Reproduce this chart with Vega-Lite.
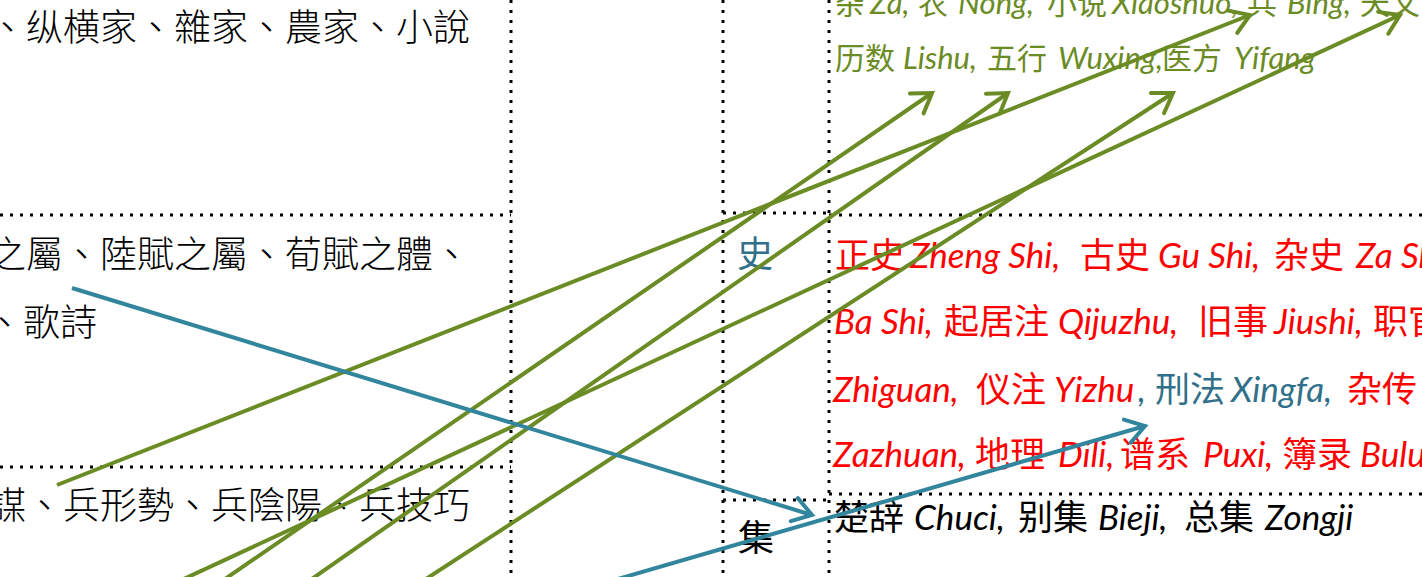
{
  "$schema": "https://vega.github.io/schema/vega-lite/v6.json",
  "width": 1422,
  "height": 577,
  "autosize": "none",
  "padding": 0,
  "background": "white",
  "config": {"view": {"stroke": null}},
  "datasets": {
    "dots": [
      {"x": 511, "y": 0, "x2": 511, "y2": 577},
      {"x": 723, "y": 0, "x2": 723, "y2": 577},
      {"x": 829, "y": 0, "x2": 829, "y2": 577},
      {"x": 0, "y": 215, "x2": 511, "y2": 215},
      {"x": 0, "y": 467, "x2": 511, "y2": 467},
      {"x": 723, "y": 213, "x2": 829, "y2": 213},
      {"x": 829, "y": 215, "x2": 1422, "y2": 215},
      {"x": 723, "y": 500, "x2": 829, "y2": 500},
      {"x": 829, "y": 494, "x2": 1422, "y2": 494}
    ],
    "links": [
      {"x": 160, "y": 590, "x2": 1400, "y2": 15, "tone": "green"},
      {"x": 209, "y": 590, "x2": 932, "y2": 93, "tone": "green"},
      {"x": 296, "y": 590, "x2": 1008, "y2": 93, "tone": "green"},
      {"x": 409, "y": 590, "x2": 1173, "y2": 93, "tone": "green"},
      {"x": 57, "y": 485, "x2": 1250, "y2": 15, "tone": "green"},
      {"x": 72, "y": 288, "x2": 812, "y2": 515, "tone": "blue"},
      {"x": 580, "y": 590, "x2": 1145, "y2": 426, "tone": "blue"}
    ],
    "heads": [
      {"x": 932, "y": 93, "angle": 325.5, "tone": "green"},
      {"x": 1008, "y": 93, "angle": 325.1, "tone": "green"},
      {"x": 1173, "y": 93, "angle": 327, "tone": "green"},
      {"x": 1250, "y": 15, "angle": 338.5, "tone": "green"},
      {"x": 1400, "y": 15, "angle": 335.1, "tone": "green"},
      {"x": 812, "y": 515, "angle": 17, "tone": "blue"},
      {"x": 1145, "y": 426, "angle": 343.7, "tone": "blue"}
    ],
    "leftText": [
      {"x": 470, "y": 41, "text": "、纵横家、雜家、農家、小說"},
      {"x": 470, "y": 268, "text": "之屬、陸賦之屬、荀賦之體、"},
      {"x": 97, "y": 336, "text": "、歌詩"},
      {"x": 470, "y": 519, "text": "謀、兵形勢、兵陰陽、兵技巧"}
    ],
    "midText": [
      {"x": 755, "y": 267, "text": "史", "tone": "teal"},
      {"x": 756, "y": 551, "text": "集", "tone": "black"}
    ],
    "rightText": [
      {"x": 835, "y": 14, "text": "杂", "script": "cjk", "tone": "green", "block": "g"},
      {"x": 870, "y": 14, "text": "Za,", "script": "lat", "tone": "green", "block": "g"},
      {"x": 918, "y": 14, "text": "农", "script": "cjk", "tone": "green", "block": "g"},
      {"x": 958, "y": 14, "text": "Nong,", "script": "lat", "tone": "green", "block": "g"},
      {"x": 1047, "y": 14, "text": "小说", "script": "cjk", "tone": "green", "block": "g"},
      {"x": 1112, "y": 14, "text": "Xiaoshuo,", "script": "lat", "tone": "green", "block": "g"},
      {"x": 1247, "y": 14, "text": "兵", "script": "cjk", "tone": "green", "block": "g"},
      {"x": 1287, "y": 14, "text": "Bing,", "script": "lat", "tone": "green", "block": "g"},
      {"x": 1360, "y": 14, "text": "天文", "script": "cjk", "tone": "green", "block": "g"},
      {"x": 835, "y": 69, "text": "历数", "script": "cjk", "tone": "green", "block": "g"},
      {"x": 903, "y": 69, "text": "Lishu,", "script": "lat", "tone": "green", "block": "g"},
      {"x": 987, "y": 69, "text": "五行", "script": "cjk", "tone": "green", "block": "g"},
      {"x": 1058, "y": 69, "text": "Wuxing,", "script": "lat", "tone": "green", "block": "g"},
      {"x": 1162, "y": 69, "text": "医方", "script": "cjk", "tone": "green", "block": "g"},
      {"x": 1234, "y": 69, "text": "Yifang", "script": "lat", "tone": "green", "block": "g"},
      {"x": 835, "y": 268, "text": "正史", "script": "cjk", "tone": "red", "block": "r"},
      {"x": 910, "y": 268, "text": "Zheng Shi,", "script": "lat", "tone": "red", "block": "r"},
      {"x": 1080, "y": 268, "text": "古史", "script": "cjk", "tone": "red", "block": "r"},
      {"x": 1158, "y": 268, "text": "Gu Shi,", "script": "lat", "tone": "red", "block": "r"},
      {"x": 1274, "y": 268, "text": "杂史", "script": "cjk", "tone": "red", "block": "r"},
      {"x": 1356, "y": 268, "text": "Za Shi,", "script": "lat", "tone": "red", "block": "r"},
      {"x": 834, "y": 334, "text": "Ba Shi,", "script": "lat", "tone": "red", "block": "r"},
      {"x": 944, "y": 334, "text": "起居注", "script": "cjk", "tone": "red", "block": "r"},
      {"x": 1058, "y": 334, "text": "Qijuzhu,", "script": "lat", "tone": "red", "block": "r"},
      {"x": 1198, "y": 334, "text": "旧事", "script": "cjk", "tone": "red", "block": "r"},
      {"x": 1274, "y": 334, "text": "Jiushi,", "script": "lat", "tone": "red", "block": "r"},
      {"x": 1373, "y": 334, "text": "职官", "script": "cjk", "tone": "red", "block": "r"},
      {"x": 833, "y": 402, "text": "Zhiguan,", "script": "lat", "tone": "red", "block": "r"},
      {"x": 976, "y": 402, "text": "仪注", "script": "cjk", "tone": "red", "block": "r"},
      {"x": 1054, "y": 402, "text": "Yizhu", "script": "lat", "tone": "red", "block": "r"},
      {"x": 1138, "y": 402, "text": ",", "script": "lat", "tone": "teal", "block": "r"},
      {"x": 1155, "y": 402, "text": "刑法", "script": "cjk", "tone": "teal", "block": "r"},
      {"x": 1231, "y": 402, "text": "Xingfa,", "script": "lat", "tone": "teal", "block": "r"},
      {"x": 1347, "y": 402, "text": "杂传", "script": "cjk", "tone": "red", "block": "r"},
      {"x": 833, "y": 467, "text": "Zazhuan,", "script": "lat", "tone": "red", "block": "r"},
      {"x": 975, "y": 467, "text": "地理", "script": "cjk", "tone": "red", "block": "r"},
      {"x": 1058, "y": 467, "text": "Dili,", "script": "lat", "tone": "red", "block": "r"},
      {"x": 1120, "y": 467, "text": "谱系", "script": "cjk", "tone": "red", "block": "r"},
      {"x": 1203, "y": 467, "text": "Puxi,", "script": "lat", "tone": "red", "block": "r"},
      {"x": 1282, "y": 467, "text": "簿录", "script": "cjk", "tone": "red", "block": "r"},
      {"x": 1360, "y": 467, "text": "Bulu", "script": "lat", "tone": "red", "block": "r"},
      {"x": 834, "y": 530, "text": "楚辞", "script": "cjk", "tone": "black", "block": "k"},
      {"x": 914, "y": 530, "text": "Chuci,", "script": "lat", "tone": "black", "block": "k"},
      {"x": 1018, "y": 530, "text": "别集", "script": "cjk", "tone": "black", "block": "k"},
      {"x": 1098, "y": 530, "text": "Bieji,", "script": "lat", "tone": "black", "block": "k"},
      {"x": 1184, "y": 530, "text": "总集", "script": "cjk", "tone": "black", "block": "k"},
      {"x": 1265, "y": 530, "text": "Zongji", "script": "lat", "tone": "black", "block": "k"}
    ]
  },
  "layer": [
    {
      "data": {"name": "dots"},
      "mark": {"type": "rule", "color": "#000000", "strokeWidth": 3, "strokeDash": [3, 7], "clip": true},
      "encoding": {
        "x": {"field": "x", "type": "quantitative", "scale": {"domain": [0, 1422], "nice": false, "zero": false}, "axis": null},
        "y": {"field": "y", "type": "quantitative", "scale": {"domain": [577, 0], "nice": false, "zero": false}, "axis": null},
        "x2": {"field": "x2"},
        "y2": {"field": "y2"}
      }
    },
    {
      "data": {"name": "leftText"},
      "mark": {"type": "text", "align": "right", "baseline": "alphabetic", "font": "Noto Sans CJK TC", "fontSize": 37, "fontWeight": 300, "color": "#000000", "clip": true},
      "encoding": {
        "x": {"field": "x", "type": "quantitative", "scale": {"domain": [0, 1422], "nice": false, "zero": false}, "axis": null},
        "y": {"field": "y", "type": "quantitative", "scale": {"domain": [577, 0], "nice": false, "zero": false}, "axis": null},
        "text": {"field": "text"}
      }
    },
    {
      "data": {"name": "midText"},
      "mark": {"type": "text", "align": "center", "baseline": "alphabetic", "font": "Noto Sans CJK SC", "fontSize": 36, "clip": true},
      "encoding": {
        "x": {"field": "x", "type": "quantitative", "scale": {"domain": [0, 1422], "nice": false, "zero": false}, "axis": null},
        "y": {"field": "y", "type": "quantitative", "scale": {"domain": [577, 0], "nice": false, "zero": false}, "axis": null},
        "text": {"field": "text"},
        "color": {"field": "tone", "type": "nominal", "scale": {"domain": ["green", "blue", "red", "teal", "black"], "range": ["#6B8B24", "#31859C", "#FF0000", "#31708A", "#000000"]}, "legend": null}
      }
    },
    {
      "data": {"name": "rightText"},
      "transform": [{"filter": "datum.script === 'cjk' && datum.block === 'g'"}],
      "mark": {"type": "text", "align": "left", "baseline": "alphabetic", "font": "Noto Sans CJK SC", "fontSize": 30, "clip": true},
      "encoding": {
        "x": {"field": "x", "type": "quantitative", "scale": {"domain": [0, 1422], "nice": false, "zero": false}, "axis": null},
        "y": {"field": "y", "type": "quantitative", "scale": {"domain": [577, 0], "nice": false, "zero": false}, "axis": null},
        "text": {"field": "text"},
        "color": {"field": "tone", "type": "nominal", "scale": {"domain": ["green", "blue", "red", "teal", "black"], "range": ["#6B8B24", "#31859C", "#FF0000", "#31708A", "#000000"]}, "legend": null}
      }
    },
    {
      "data": {"name": "rightText"},
      "transform": [{"filter": "datum.script === 'lat' && datum.block === 'g'"}],
      "mark": {"type": "text", "align": "left", "baseline": "alphabetic", "font": "Lato", "fontStyle": "italic", "fontSize": 31, "clip": true},
      "encoding": {
        "x": {"field": "x", "type": "quantitative", "scale": {"domain": [0, 1422], "nice": false, "zero": false}, "axis": null},
        "y": {"field": "y", "type": "quantitative", "scale": {"domain": [577, 0], "nice": false, "zero": false}, "axis": null},
        "text": {"field": "text"},
        "color": {"field": "tone", "type": "nominal", "scale": {"domain": ["green", "blue", "red", "teal", "black"], "range": ["#6B8B24", "#31859C", "#FF0000", "#31708A", "#000000"]}, "legend": null}
      }
    },
    {
      "data": {"name": "rightText"},
      "transform": [{"filter": "datum.script === 'cjk' && datum.block !== 'g'"}],
      "mark": {"type": "text", "align": "left", "baseline": "alphabetic", "font": "Noto Sans CJK SC", "fontSize": 35, "clip": true},
      "encoding": {
        "x": {"field": "x", "type": "quantitative", "scale": {"domain": [0, 1422], "nice": false, "zero": false}, "axis": null},
        "y": {"field": "y", "type": "quantitative", "scale": {"domain": [577, 0], "nice": false, "zero": false}, "axis": null},
        "text": {"field": "text"},
        "color": {"field": "tone", "type": "nominal", "scale": {"domain": ["green", "blue", "red", "teal", "black"], "range": ["#6B8B24", "#31859C", "#FF0000", "#31708A", "#000000"]}, "legend": null}
      }
    },
    {
      "data": {"name": "rightText"},
      "transform": [{"filter": "datum.script === 'lat' && datum.block !== 'g'"}],
      "mark": {"type": "text", "align": "left", "baseline": "alphabetic", "font": "Lato", "fontStyle": "italic", "fontSize": 35, "clip": true},
      "encoding": {
        "x": {"field": "x", "type": "quantitative", "scale": {"domain": [0, 1422], "nice": false, "zero": false}, "axis": null},
        "y": {"field": "y", "type": "quantitative", "scale": {"domain": [577, 0], "nice": false, "zero": false}, "axis": null},
        "text": {"field": "text"},
        "color": {"field": "tone", "type": "nominal", "scale": {"domain": ["green", "blue", "red", "teal", "black"], "range": ["#6B8B24", "#31859C", "#FF0000", "#31708A", "#000000"]}, "legend": null}
      }
    },
    {
      "data": {"name": "links"},
      "mark": {"type": "rule", "strokeWidth": 4, "clip": true},
      "encoding": {
        "x": {"field": "x", "type": "quantitative", "scale": {"domain": [0, 1422], "nice": false, "zero": false}, "axis": null},
        "y": {"field": "y", "type": "quantitative", "scale": {"domain": [577, 0], "nice": false, "zero": false}, "axis": null},
        "x2": {"field": "x2"},
        "y2": {"field": "y2"},
        "color": {"field": "tone", "type": "nominal", "scale": {"domain": ["green", "blue", "red", "teal", "black"], "range": ["#6B8B24", "#31859C", "#FF0000", "#31708A", "#000000"]}, "legend": null}
      }
    },
    {
      "data": {"name": "heads"},
      "mark": {"type": "point", "shape": "M -1 -0.65 L 0 0 L -1 0.65", "filled": false, "size": 1369, "strokeWidth": 4, "strokeJoin": "miter", "strokeCap": "round", "opacity": 1, "clip": true},
      "encoding": {
        "x": {"field": "x", "type": "quantitative", "scale": {"domain": [0, 1422], "nice": false, "zero": false}, "axis": null},
        "y": {"field": "y", "type": "quantitative", "scale": {"domain": [577, 0], "nice": false, "zero": false}, "axis": null},
        "angle": {"field": "angle", "type": "quantitative", "scale": null},
        "color": {"field": "tone", "type": "nominal", "scale": {"domain": ["green", "blue", "red", "teal", "black"], "range": ["#6B8B24", "#31859C", "#FF0000", "#31708A", "#000000"]}, "legend": null}
      }
    }
  ]
}
